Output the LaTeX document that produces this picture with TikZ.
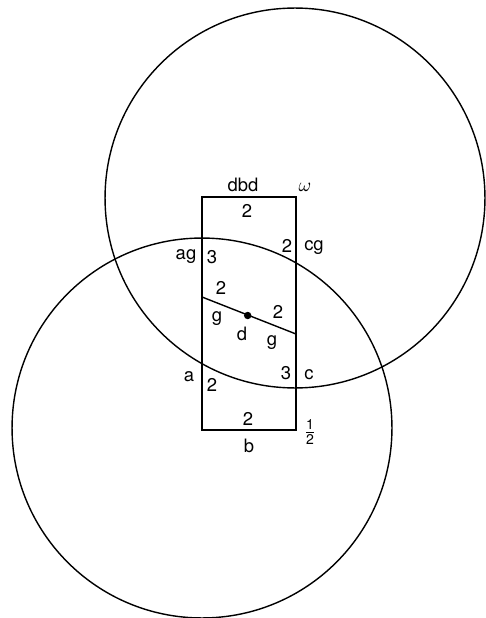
\documentclass[tikz,border=0pt]{standalone}
\usepackage{amsmath}
\usepackage{fontspec}
\setmainfont{TeX Gyre Heros}
\begin{document}
\begin{tikzpicture}[
  x=0.02cm, y=-0.02cm,
  orbit/.style={line width=0.8pt},
  cell/.style={line width=1pt},
  lbl/.style={font=\fontsize{10.5}{12}\selectfont, inner sep=0pt},
  pt/.style={circle, fill=black, inner sep=1.5pt}
]
  \useasboundingbox (0,0) rectangle (486,618);

  % === CERCHI ===
  \draw[orbit] (295,198) circle[radius=3.8cm];
  \draw[orbit] (202,428) circle[radius=3.8cm];

  % === RETTANGOLO ===
  \coordinate (tl) at (202,197);
  \coordinate (tr) at (296,197);
  \coordinate (br) at (296,430);
  \coordinate (bl) at (202,430);
  \draw[cell] (tl) -- (tr) -- (br) -- (bl) -- cycle;

  % segmento con il punto d
  \coordinate (gl) at (202,297);
  \coordinate (gr) at (296,334);
  \draw[orbit] (gl) -- (gr);
  \node[pt] (d) at (247.7,315.5) {};

  % === ETICHETTE ===
  \node[lbl] (dbd) at (243,185) {dbd};
  \node[lbl] (top2) at (247,211) {2};
  \node[lbl] (om) at (305,187) {$\omega$};
  \node[lbl] (cg2) at (287,246) {2};
  \node[lbl] (cg) at (314,248) {cg};
  \node[lbl] (ag) at (186,257) {ag};
  \node[lbl] (ag3) at (212,257) {3};
  \node[lbl] (ul2) at (221,288) {2};
  \node[lbl] (gleft) at (217,319) {g};
  \node[lbl] (dl) at (242,334) {d};
  \node[lbl] (ur2) at (278,312) {2};
  \node[lbl] (gright) at (272,343) {g};
  \node[lbl] (c3) at (286,373) {3};
  \node[lbl] (c) at (309,375) {c};
  \node[lbl] (a) at (189,377) {a};
  \node[lbl] (a2) at (212,385) {2};
  \node[lbl] (bot2) at (248,419) {2};
  \node[lbl] (b) at (249,446) {b};
  \node[lbl] (half) at (310,432) {$\frac{\text{\fontsize{8}{8}\selectfont 1}}{\text{\fontsize{8}{8}\selectfont 2}}$};
\end{tikzpicture}
\end{document}
